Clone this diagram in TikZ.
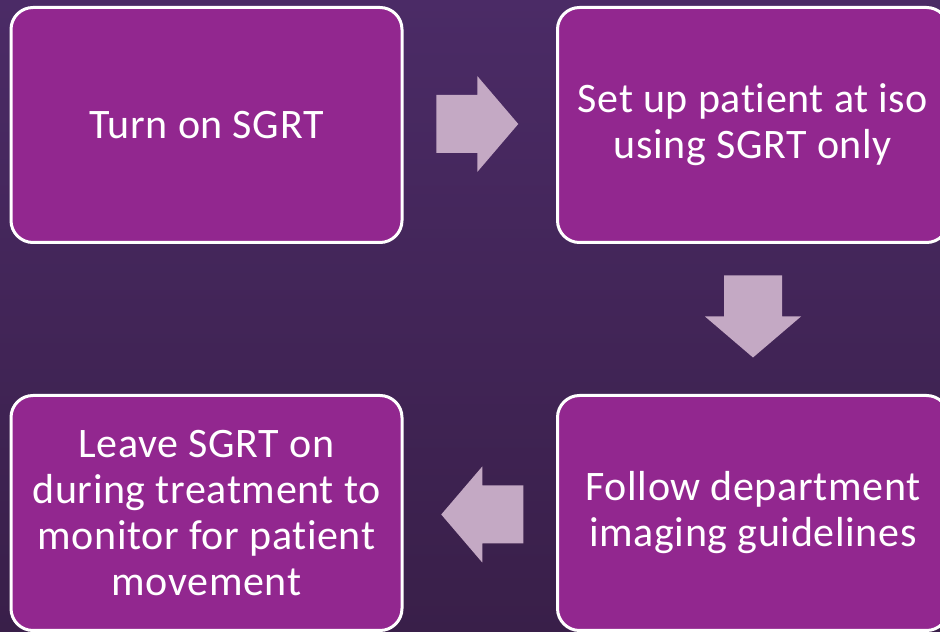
\documentclass[tikz,border=0pt]{standalone}
\usepackage{fontspec}
\setmainfont[Ligatures=NoCommon, LetterSpace=1.5]{Carlito}
\usepackage{tikz}
\usetikzlibrary{calc}
\definecolor{bgtop}{RGB}{75,43,102}
\definecolor{bgbottom}{RGB}{57,31,73}
\definecolor{stepfill}{RGB}{146,39,143}
\definecolor{arrowlilac}{RGB}{196,169,196}

\begin{document}
\begin{tikzpicture}[
    x=1pt, y=1pt,
    box/.style={rectangle, draw=white, line width=3pt, rounded corners=22pt, fill=stepfill, text=white, minimum width=391pt, minimum height=235pt, align=center, font=\fontsize{42}{46}\selectfont},
    blockarrow/.pic={\fill[arrowlilac] (-41,-29) -- (0,-29) -- (0,-48) -- (41,0) -- (0,48) -- (0,29) -- (-41,29) -- cycle;}
]
    \useasboundingbox (0,0) rectangle (940,632);
    \clip (0,0) rectangle (940,632);
    \shade[top color=bgtop, bottom color=bgbottom] (0,0) rectangle (940,632);

    % Nodes
    \node[box] (turnon) at (206.5,507) {Turn on SGRT};
    \node[box] (setup) at (753,507) {Set up patient at iso\\using SGRT only};
    \node[box] (imaging) at (753,119) {Follow department\\imaging guidelines};
    \node[box] (leave) at (206.5,119) {Leave SGRT on\\during treatment to\\monitor for patient\\movement};

    % Arrows
    \coordinate (a1) at ($(turnon.east)!0.5!(setup.west)+(-2.5,1)$);
    \coordinate (a2) at ($(setup.south)!0.5!(imaging.north)+(0,2.5)$);
    \coordinate (a3) at ($(imaging.west)!0.5!(leave.east)+(2.5,-1.5)$);
    \pic at (a1) {blockarrow};
    \pic[rotate=-90] at (a2) {blockarrow};
    \pic[rotate=180] at (a3) {blockarrow};

\end{tikzpicture}
\end{document}
